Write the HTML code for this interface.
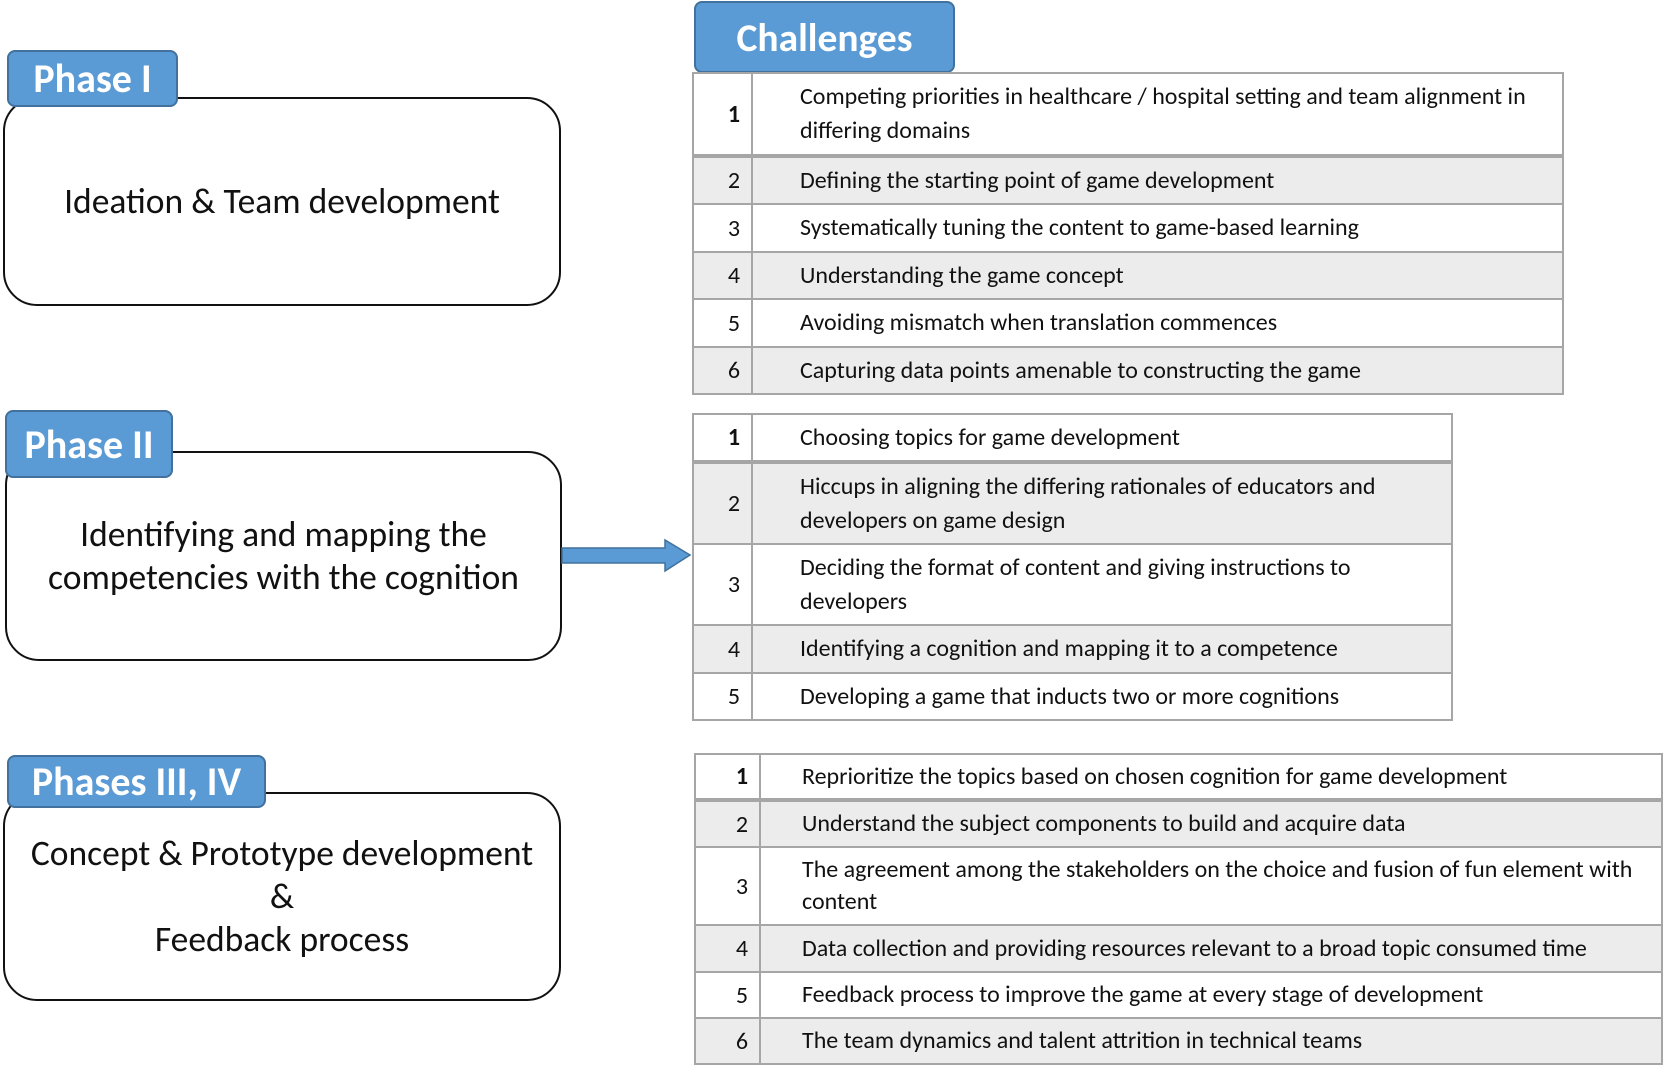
<!DOCTYPE html>
<html><head><meta charset="utf-8"><style>
body{margin:0;width:1665px;height:1069px;background:#fff;position:relative;overflow:hidden;font-family:Calibri,"Carlito","Liberation Sans",sans-serif;}
.box{position:absolute;border:2.5px solid #111;border-radius:34px;background:#fff;box-sizing:border-box;display:flex;align-items:center;justify-content:center;text-align:center;font-size:35.5px;line-height:43px;color:#111;}
.tab{position:absolute;background:#5b9bd5;border:2px solid #41719c;border-radius:8px;box-sizing:border-box;color:#fff;font-weight:bold;display:flex;align-items:center;justify-content:center;}
.tbl{position:absolute;border:2px solid #a6a6a6;box-sizing:border-box;}
.row{position:relative;border-bottom:2px solid #a6a6a6;box-sizing:border-box;font-size:24px;color:#111;}
.row.g{background:#ececec;}
.row.last{border-bottom:none;}
.num{position:absolute;left:0;top:0;bottom:0;width:59px;border-right:2px solid #a6a6a6;display:flex;align-items:center;justify-content:flex-end;padding-right:11px;box-sizing:border-box;}
.txt{position:absolute;left:106px;right:10px;top:0;bottom:0;display:flex;align-items:center;line-height:34px;white-space:nowrap;}
</style></head><body>

<div class="box" style="left:3px;top:97px;width:558px;height:209px;">Ideation &amp; Team development</div>
<div class="tab" style="left:7px;top:50px;width:171px;height:57px;font-size:40px;">Phase I</div>

<div class="box" style="left:5px;top:451px;width:557px;height:210px;">Identifying and mapping the<br>competencies with the cognition</div>
<div class="tab" style="left:5px;top:410px;width:168px;height:68px;font-size:40px;">Phase II</div>

<div class="box" style="left:3px;top:792px;width:558px;height:209px;">Concept &amp; Prototype development<br>&amp;<br>Feedback process</div>
<div class="tab" style="left:7px;top:755px;width:259px;height:53px;font-size:40px;">Phases III, IV</div>

<div class="tab" style="left:694px;top:1px;width:261px;height:72px;font-size:39.5px;">Challenges</div>

<svg style="position:absolute;left:560px;top:536px" width="135" height="40"><polygon points="2,12 105,12 105,4 130,19 105,35 105,27 2,27" fill="#5b9bd5" stroke="#41719c" stroke-width="1.5"/></svg>

<div class="tbl" style="left:692px;top:72px;width:872px;">
<div class="row" style="height:84px;border-bottom-width:4px"><div class="num" style="font-weight:bold">1</div><div class="txt">Competing priorities in healthcare / hospital setting and team alignment in<br>differing domains</div></div>
<div class="row g" style="height:47px"><div class="num">2</div><div class="txt">Defining the starting point of game development</div></div>
<div class="row" style="height:48px"><div class="num">3</div><div class="txt">Systematically tuning the content to game-based learning</div></div>
<div class="row g" style="height:47px"><div class="num">4</div><div class="txt">Understanding the game concept</div></div>
<div class="row" style="height:48px"><div class="num">5</div><div class="txt">Avoiding mismatch when translation commences</div></div>
<div class="row g last" style="height:45px"><div class="num">6</div><div class="txt">Capturing data points amenable to constructing the game</div></div>
</div>

<div class="tbl" style="left:692px;top:413px;width:761px;">
<div class="row" style="height:49px;border-bottom-width:4px"><div class="num" style="font-weight:bold">1</div><div class="txt">Choosing topics for game development</div></div>
<div class="row g" style="height:81px"><div class="num">2</div><div class="txt">Hiccups in aligning the differing rationales of educators and<br>developers on game design</div></div>
<div class="row" style="height:81px"><div class="num">3</div><div class="txt">Deciding the format of content and giving instructions to<br>developers</div></div>
<div class="row g" style="height:48px"><div class="num">4</div><div class="txt">Identifying a cognition and mapping it to a competence</div></div>
<div class="row last" style="height:45px"><div class="num">5</div><div class="txt">Developing a game that inducts two or more cognitions</div></div>
</div>

<div class="tbl" style="left:694px;top:753px;width:969px;">
<div class="row" style="height:47px;border-bottom-width:4px"><div class="num" style="font-weight:bold;width:65px">1</div><div class="txt">Reprioritize the topics based on chosen cognition for game development</div></div>
<div class="row g" style="height:46px"><div class="num" style="width:65px">2</div><div class="txt">Understand the subject components to build and acquire data</div></div>
<div class="row" style="height:78px"><div class="num" style="width:65px">3</div><div class="txt" style="line-height:32px">The agreement among the stakeholders on the choice and fusion of fun element with<br>content</div></div>
<div class="row g" style="height:47px"><div class="num" style="width:65px">4</div><div class="txt">Data collection and providing resources relevant to a broad topic consumed time</div></div>
<div class="row" style="height:46px"><div class="num" style="width:65px">5</div><div class="txt">Feedback process to improve the game at every stage of development</div></div>
<div class="row g last" style="height:44px"><div class="num" style="width:65px">6</div><div class="txt">The team dynamics and talent attrition in technical teams</div></div>
</div>

</body></html>
